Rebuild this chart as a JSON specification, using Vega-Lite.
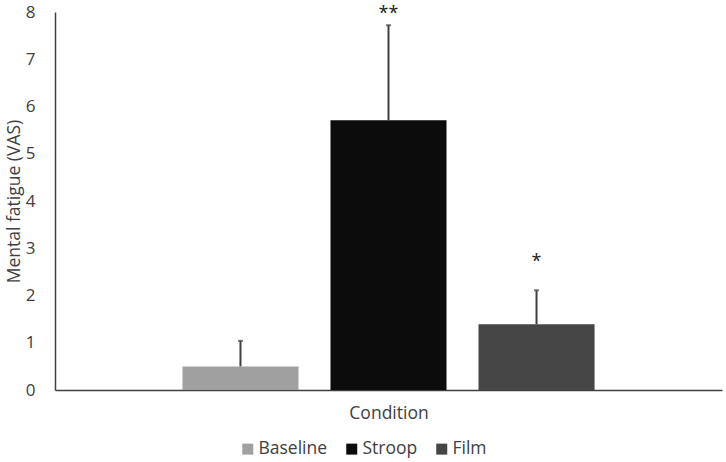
{
  "$schema": "https://vega.github.io/schema/vega-lite/v6.json",
  "width": 667,
  "height": 378,
  "autosize": {"type": "none"},
  "padding": {"left": 55, "top": 12, "right": 4, "bottom": 72},
  "background": "white",
  "config": {
    "font": "Open Sans",
    "view": {"stroke": null},
    "axis": {"grid": false, "labelColor": "#404040", "titleColor": "#404040", "labelFont": "Open Sans", "titleFont": "Open Sans", "titleFontWeight": "normal"},
    "legend": {"labelFont": "Open Sans", "labelColor": "#404040"}
  },
  "data": {
    "values": [
      {"condition": "Baseline", "mean": 0.5, "upper": 1.04, "sig": ""},
      {"condition": "Stroop", "mean": 5.71, "upper": 7.72, "sig": "**"},
      {"condition": "Film", "mean": 1.39, "upper": 2.11, "sig": "*"}
    ]
  },
  "encoding": {
    "x": {
      "field": "condition",
      "type": "nominal",
      "sort": ["Baseline", "Stroop", "Film"],
      "scale": {"paddingInner": 0.216, "paddingOuter": 0.861},
      "axis": {"title": "Condition", "labels": false, "ticks": false, "domainColor": "#404040", "domainWidth": 1.5, "titleFontSize": 17.5, "titlePadding": 14}
    }
  },
  "layer": [
    {
      "mark": {"type": "bar"},
      "encoding": {
        "y": {
          "field": "mean",
          "type": "quantitative",
          "scale": {"domain": [0, 8]},
          "axis": {"title": "Mental fatigue (VAS)", "values": [0, 1, 2, 3, 4, 5, 6, 7, 8], "ticks": false, "labelFontSize": 17, "labelPadding": 20, "titleFontSize": 17.5, "titlePadding": 2, "domainColor": "#404040", "domainWidth": 1.5}
        },
        "color": {
          "field": "condition",
          "type": "nominal",
          "sort": ["Baseline", "Stroop", "Film"],
          "scale": {"domain": ["Baseline", "Stroop", "Film"], "range": ["#a0a0a0", "#0c0c0c", "#454545"]},
          "legend": {"title": null, "orient": "none", "direction": "horizontal", "legendX": 184, "legendY": 428, "symbolType": "square", "symbolSize": 121, "symbolStrokeWidth": 0, "labelFontSize": 17.5, "columnPadding": 15, "labelOffset": 2}
        }
      }
    },
    {
      "mark": {"type": "rule", "color": "#404040", "strokeWidth": 2},
      "encoding": {
        "y": {"field": "mean", "type": "quantitative"},
        "y2": {"field": "upper"}
      }
    },
    {
      "mark": {"type": "tick", "color": "#404040", "size": 5, "thickness": 2},
      "encoding": {
        "y": {"field": "upper", "type": "quantitative"}
      }
    },
    {
      "transform": [{"filter": "datum.condition === 'Stroop'"}],
      "mark": {"type": "text", "fontSize": 18, "color": "#202020", "baseline": "middle", "dy": -11},
      "encoding": {
        "y": {"field": "upper", "type": "quantitative"},
        "text": {"field": "sig"}
      }
    },
    {
      "transform": [{"filter": "datum.condition === 'Film'"}],
      "mark": {"type": "text", "fontSize": 18, "color": "#202020", "baseline": "middle", "dy": -28},
      "encoding": {
        "y": {"field": "upper", "type": "quantitative"},
        "text": {"field": "sig"}
      }
    }
  ]
}
